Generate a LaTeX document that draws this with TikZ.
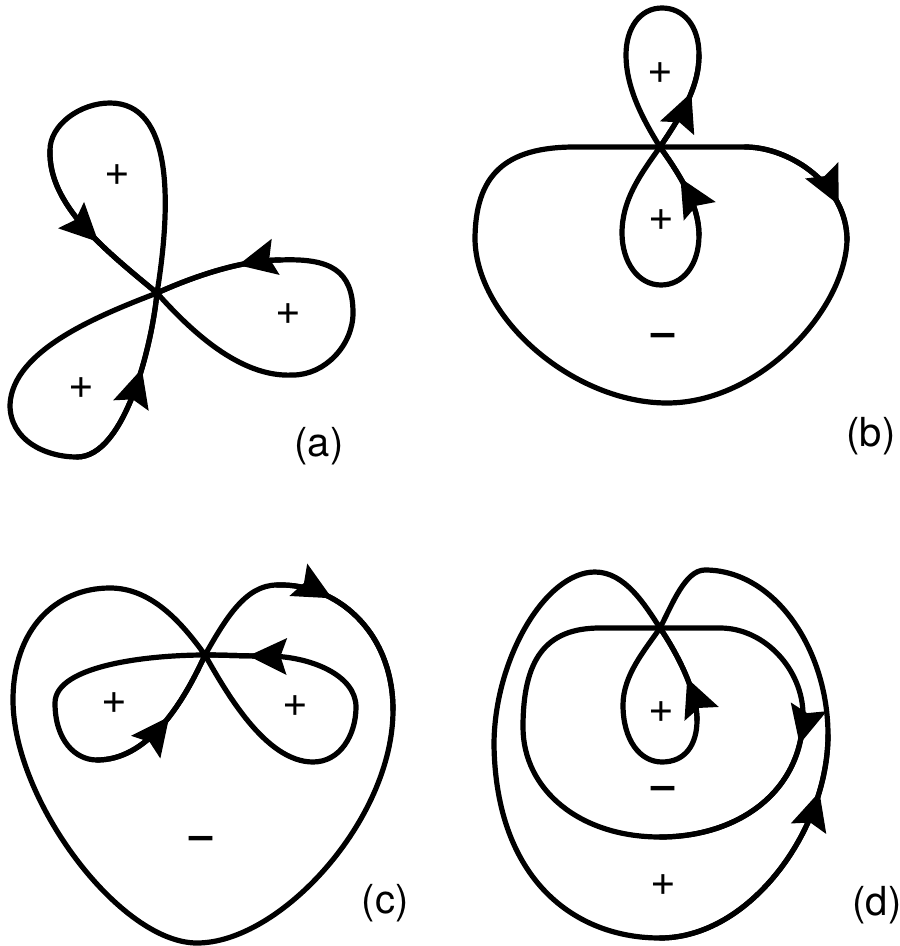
\documentclass[tikz,border=0pt]{standalone}
\usepackage{fontspec}
\newfontfamily\heros{TeX Gyre Heros}
\usetikzlibrary{arrows.meta,decorations.markings}
\tikzset{
  curve/.style={line width=2.6pt, line cap=round, line join=round},
  arr/.style={decoration={markings, mark=at position #1 with {\arrow{Stealth[length=19pt,width=18pt,inset=3pt]}}}, postaction={decorate}},
  plus/.style={font=\heros\fontsize{22}{22}\selectfont, inner sep=0pt},
  minus/.style={font=\heros\bfseries\fontsize{21}{21}\selectfont, inner sep=0pt},
  lab/.style={font=\heros\fontsize{20}{22}\selectfont, inner sep=0pt},
}
\begin{document}
\begin{tikzpicture}[x=0.5pt,y=-0.5pt]
\useasboundingbox (0,0) rectangle (899,946);

% ---------------- (a) ----------------
\coordinate (Ca) at (157,293);
\draw[curve] (Ca) .. controls (172,200) and (172,103) .. (110,103)
  .. controls (80,103) and (50,125) .. (50,150)
  .. controls (48,205) and (105,250) .. (Ca)
  .. controls (190,330) and (240,378) .. (293,375)
  .. controls (325,375) and (353,345) .. (353,313)
  .. controls (353,270) and (330,258) .. (280,260)
  .. controls (240,260) and (190,278) .. (Ca)
  .. controls (100,315) and (12,350) .. (10,405)
  .. controls (10,440) and (45,457) .. (77,457)
  .. controls (125,457) and (152,345) .. (Ca) -- cycle;
\draw[curve, arr=0.58] (50,150) .. controls (48,205) and (105,250) .. (Ca);
\draw[curve, arr=0.33] (280,260) .. controls (240,260) and (190,278) .. (Ca);
\draw[curve, arr=0.6] (77,457) .. controls (125,457) and (152,345) .. (Ca);
\node[plus] (a1) at (117,175) {+};
\node[plus] (a2) at (288,314) {+};
\node[plus] (a3) at (81,388) {+};
\node[lab] (la) at (319,446) {(a)};

% ---------------- (b) ----------------
\coordinate (Cb) at (660,147);
\draw[curve] (Cb) -- (745,147) .. controls (790,147) and (847,185) .. (847,240)
  .. controls (845,310) and (760,403) .. (667,403)
  .. controls (575,403) and (477,320) .. (475,240)
  .. controls (475,175) and (505,147) .. (575,147) -- cycle;
\draw[curve, arr=0.76] (745,147) .. controls (790,147) and (847,185) .. (847,240);
\draw[curve] (Cb) .. controls (685,110) and (699,85) .. (699,55)
  .. controls (699,25) and (683,8) .. (662,8)
  .. controls (640,8) and (626,28) .. (626,55)
  .. controls (626,85) and (640,115) .. (Cb);
\draw[curve, arr=0.62] (Cb) .. controls (685,110) and (699,85) .. (699,55);
\draw[curve] (Cb) .. controls (640,175) and (622,200) .. (622,233)
  .. controls (622,262) and (638,285) .. (661,285)
  .. controls (683,285) and (699,265) .. (699,235)
  .. controls (699,205) and (680,175) .. (Cb);
\draw[curve, arr=0.62] (699,235) .. controls (699,205) and (680,175) .. (Cb);
\node[plus] (b1) at (660,73) {+};
\node[plus] (b2) at (661,220) {+};
\node[minus] (b3) at (663,340) {–};
\node[lab] (lb) at (871,436) {(b)};

% ---------------- (c) ----------------
\coordinate (Cc) at (205,655);
\draw[curve] (Cc) .. controls (225,620) and (245,585) .. (277,585)
  .. controls (335,583) and (393,630) .. (393,710)
  .. controls (393,820) and (280,943) .. (197,943)
  .. controls (120,943) and (13,800) .. (13,700)
  .. controls (13,630) and (55,588) .. (110,588)
  .. controls (150,588) and (180,620) .. (Cc)
  .. controls (225,690) and (265,762) .. (313,762)
  .. controls (340,762) and (356,735) .. (356,707)
  .. controls (356,675) and (310,656) .. (267,656)
  .. controls (240,656) and (225,655) .. (Cc)
  .. controls (150,655) and (55,665) .. (55,703)
  .. controls (55,740) and (75,760) .. (97,760)
  .. controls (145,760) and (180,710) .. (Cc) -- cycle;
\draw[curve, arr=0.3] (277,585) .. controls (335,583) and (393,630) .. (393,710);
\draw[curve, arr=0.3] (267,656) .. controls (240,656) and (225,655) .. (Cc);
\draw[curve, arr=0.55] (97,760) .. controls (145,760) and (180,710) .. (Cc);
\node[plus] (c1) at (114,703) {+};
\node[plus] (c2) at (295,706) {+};
\node[minus] (c3) at (201,843) {–};
\node[lab] (lc) at (385,903) {(c)};

% ---------------- (d) ----------------
\coordinate (Cd) at (660,628);
\draw[curve] (Cd) -- (720,628) .. controls (765,628) and (803,670) .. (803,715)
  .. controls (803,790) and (740,837) .. (660,837)
  .. controls (580,837) and (523,790) .. (523,727)
  .. controls (523,660) and (545,628) .. (600,628) -- cycle;
\draw[curve, arr=0.14] (803,715) .. controls (803,790) and (740,837) .. (660,837);
\draw[curve] (Cd) .. controls (645,605) and (625,572) .. (595,572)
  .. controls (545,572) and (494,660) .. (494,745)
  .. controls (496,880) and (575,938) .. (660,938)
  .. controls (750,938) and (828,830) .. (828,735)
  .. controls (828,650) and (775,570) .. (705,570)
  .. controls (685,570) and (672,605) .. (Cd)
  .. controls (645,650) and (623,675) .. (623,705)
  .. controls (623,740) and (640,762) .. (662,762)
  .. controls (685,762) and (697,745) .. (697,720)
  .. controls (697,690) and (675,650) .. (Cd) -- cycle;
\draw[curve, arr=0.8] (660,938) .. controls (750,938) and (828,830) .. (828,735);
\draw[curve, arr=0.43] (697,720) .. controls (697,690) and (675,650) .. (Cd);
\node[plus] (d1) at (661,712) {+};
\node[minus] (d2) at (663,793) {–};
\node[plus] (d3) at (663,885) {+};
\node[lab] (ld) at (877,905) {(d)};
\end{tikzpicture}
\end{document}
